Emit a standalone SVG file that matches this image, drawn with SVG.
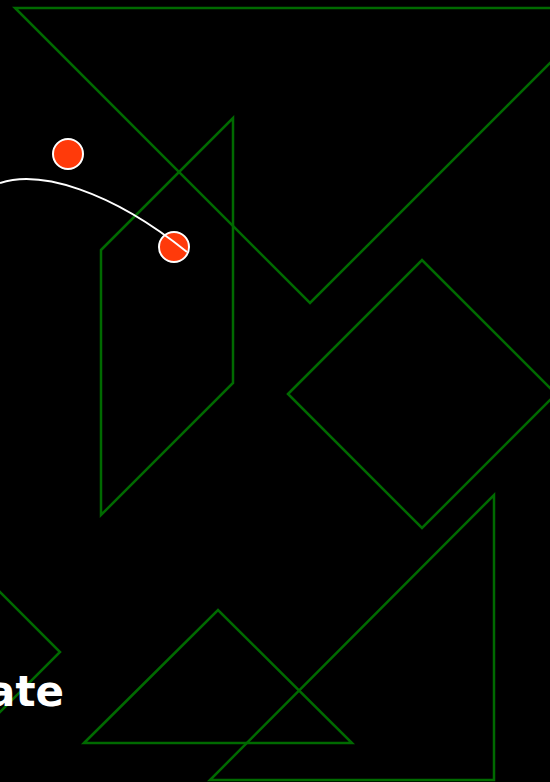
<svg xmlns="http://www.w3.org/2000/svg" width="550" height="782" viewBox="0 0 550 782">
<style>
.shape{fill:none;stroke:#006a00;stroke-width:2.5;stroke-linejoin:miter}
.dot{fill:#ff3a0a;stroke:#ffffff;stroke-width:2}
.lbl{font-family:"DejaVu Sans",sans-serif;font-weight:bold;font-size:42px;fill:#ffffff}
</style>
<rect x="0" y="0" width="550" height="782" fill="#000000"/>
<g id="tri-top"><polygon class="shape" points="15,8 605,8 310,303"/></g>
<g id="parallelogram"><polygon class="shape" points="101,250 233,118 233,383 101,515"/></g>
<g id="diamond-right"><polygon class="shape" points="288,394 422,260 556,394 422,528"/></g>
<g id="diamond-left"><polygon class="shape" points="-60,652 0,592 60,652 0,712"/></g>
<g id="tri-bottom"><polygon class="shape" points="84,743 218,610 352,743"/></g>
<g id="tri-right"><polygon class="shape" points="494,495 494,780 210,780"/></g>
<g id="label"><text class="lbl" x="64" y="706" text-anchor="end">ate</text></g>
<g id="dot1"><circle class="dot" cx="68" cy="154" r="15"/></g>
<g id="dot2"><circle class="dot" cx="174" cy="247" r="15"/></g>
<g id="connectors"><path d="M0,183 C40,170 110,190 187,252" fill="none" stroke="#ffffff" stroke-width="2"/></g>
</svg>
